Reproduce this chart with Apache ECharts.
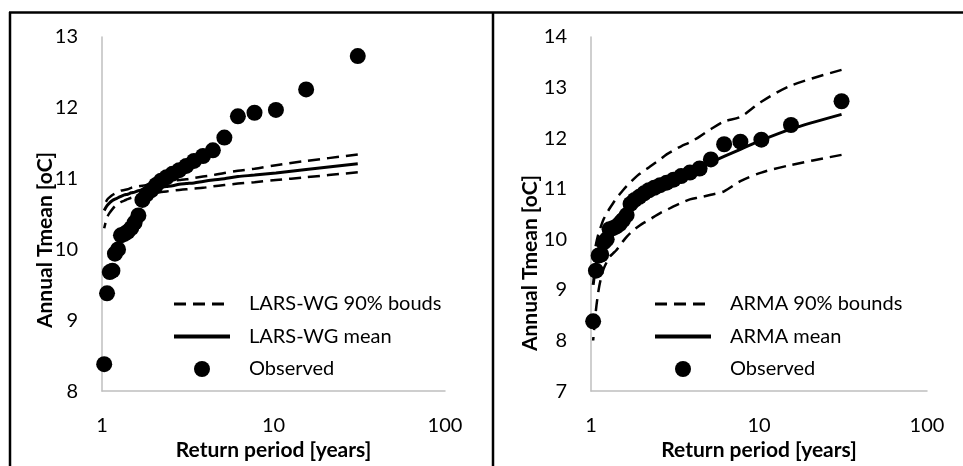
<!DOCTYPE html>
<html lang="en">
<head>
<meta charset="UTF-8">
<title>Annual Tmean return periods</title>
<script src="https://cdn.jsdelivr.net/npm/echarts@6/dist/echarts.min.js"></script>
<style>
    html, body { margin: 0; padding: 0; background: #fff; }
    #chart { width: 963px; height: 466px; }
</style>
</head>
<body>
<div id="chart"></div>
<script>
    // return periods of the observed years (largest first)
    var returnPeriod = [31, 15.5, 10.33, 7.75, 6.2, 5.17, 4.43, 3.88, 3.44, 3.1, 2.82, 2.58, 2.38, 2.21, 2.07,
        1.94, 1.82, 1.72, 1.63, 1.55, 1.48, 1.41, 1.35, 1.29, 1.24, 1.19, 1.15, 1.11, 1.07, 1.03];
    var observed = [12.73, 12.26, 11.97, 11.93, 11.88, 11.58, 11.40, 11.32, 11.25, 11.18, 11.12, 11.07, 11.02, 10.97, 10.91,
        10.84, 10.78, 10.70, 10.48, 10.38, 10.30, 10.25, 10.22, 10.20, 10.00, 9.94, 9.70, 9.68, 9.38, 8.38];

    // LARS-WG
    var larsMean = [11.21, 11.13, 11.08, 11.05, 11.03, 11.00, 10.98, 10.96, 10.94, 10.93, 10.92, 10.90, 10.89, 10.88, 10.87,
        10.86, 10.85, 10.84, 10.83, 10.81, 10.80, 10.78, 10.77, 10.75, 10.73, 10.71, 10.69, 10.66, 10.62, 10.55];
    var larsUpper = [11.34, 11.25, 11.19, 11.14, 11.11, 11.08, 11.05, 11.03, 11.01, 10.99, 10.98, 10.97, 10.95, 10.94, 10.93,
        10.92, 10.91, 10.90, 10.89, 10.88, 10.87, 10.85, 10.84, 10.83, 10.81, 10.79, 10.77, 10.74, 10.70, 10.62];
    var larsLower = [11.09, 11.02, 10.98, 10.95, 10.93, 10.91, 10.89, 10.87, 10.86, 10.85, 10.84, 10.83, 10.82, 10.81, 10.80,
        10.79, 10.78, 10.77, 10.76, 10.74, 10.73, 10.71, 10.69, 10.67, 10.64, 10.61, 10.57, 10.52, 10.45, 10.30];

    // ARMA
    var armaMean = [12.47, 12.18, 11.96, 11.78, 11.64, 11.52, 11.41, 11.32, 11.24, 11.17, 11.10, 11.04, 10.98, 10.92, 10.87,
        10.81, 10.75, 10.69, 10.63, 10.56, 10.49, 10.42, 10.34, 10.25, 10.15, 10.05, 9.92, 9.75, 9.50, 9.10];
    var armaUpper = [13.35, 13.04, 12.72, 12.42, 12.33, 12.18, 12.03, 11.92, 11.84, 11.76, 11.68, 11.58, 11.50, 11.42, 11.36,
        11.29, 11.21, 11.13, 11.05, 10.97, 10.89, 10.80, 10.71, 10.61, 10.51, 10.40, 10.27, 10.12, 9.90, 9.60];
    var armaLower = [11.67, 11.47, 11.32, 11.15, 10.95, 10.88, 10.83, 10.79, 10.72, 10.65, 10.58, 10.52, 10.45, 10.38, 10.33,
        10.27, 10.20, 10.13, 10.05, 9.96, 9.87, 9.78, 9.72, 9.65, 9.55, 9.42, 9.25, 9.00, 8.60, 8.00];

    var xTicks = [1, 10, 100];

    function pairs(ys) {
        return returnPeriod.map(function (t, i) { return [t, ys[i]]; });
    }

    var font = 'Lato';
    var dash = [12, 7];

    function xAxisCfg(idx) {
        return {
            gridIndex: idx, type: 'log', logBase: 10, min: xTicks[0], max: xTicks[xTicks.length - 1],
            name: 'Return period [years]', nameLocation: 'middle', nameGap: 46,
            nameTextStyle: { fontFamily: font, fontSize: 21, fontWeight: 'bold', color: '#000' },
            axisLine: { lineStyle: { color: '#bfbfbf', width: 1.5 } },
            axisTick: { show: false }, splitLine: { show: false },
            axisLabel: { fontFamily: font, fontSize: 20, color: '#000', margin: 24 }
        };
    }

    function yAxisCfg(idx, min, max) {
        return {
            gridIndex: idx, type: 'value', min: min, max: max, interval: 1,
            axisLine: { show: true, lineStyle: { color: '#bfbfbf', width: 1.5 } },
            axisTick: { show: false }, splitLine: { show: false },
            axisLabel: { fontFamily: font, fontSize: 20, color: '#000', margin: 24 }
        };
    }

    function lineSeries(name, idx, ys, dashed) {
        return {
            name: name, type: 'line', xAxisIndex: idx, yAxisIndex: idx,
            data: pairs(ys), symbol: 'none', smooth: 0.3,
            lineStyle: { color: '#000', width: dashed ? 2.5 : 3, type: dashed ? dash : 'solid' },
            itemStyle: { color: 'rgba(0,0,0,0)' }
        };
    }

    function obsSeries(idx) {
        return {
            name: 'Observed', type: 'scatter', xAxisIndex: idx, yAxisIndex: idx,
            data: pairs(observed), symbol: 'circle', symbolSize: 16,
            itemStyle: { color: '#000', opacity: 1 }
        };
    }

    function legendCfg(left, names) {
        return {
            left: left, top: 294, orient: 'vertical', padding: 0,
            data: [
                { name: names[0], itemStyle: { opacity: 0 }, lineStyle: { width: 3 } },
                { name: names[1], itemStyle: { opacity: 0 }, lineStyle: { width: 4 } },
                { name: names[2] }
            ],
            itemWidth: 56, itemHeight: 16, itemGap: 12.5,
            textStyle: { fontFamily: font, fontSize: 20, color: '#000', padding: [0, 0, 0, 14] }
        };
    }

    function border(x1, y1, x2, y2) {
        return { type: 'line', shape: { x1: x1, y1: y1, x2: x2, y2: y2 }, style: { stroke: '#000', lineWidth: 2.5 }, silent: true };
    }

    function yTitle(x, y) {
        return {
            type: 'text', x: x, y: y, rotation: Math.PI / 2, silent: true,
            style: { text: 'Annual Tmean [oC]', font: 'bold 21px Lato', fill: '#000', align: 'center', verticalAlign: 'middle' }
        };
    }

    var chart = echarts.init(document.getElementById('chart'));
    chart.setOption({
        animation: false,
        grid: [
            { left: 102, top: 37, width: 343, height: 356 },
            { left: 591, top: 37, width: 336, height: 356 }
        ],
        xAxis: [xAxisCfg(0), xAxisCfg(1)],
        yAxis: [yAxisCfg(0, 8, 13), yAxisCfg(1, 7, 14)],
        legend: [
            legendCfg(172, ['LARS-WG 90% bouds', 'LARS-WG mean', 'Observed']),
            legendCfg(653, ['ARMA 90% bounds', 'ARMA mean', 'Observed'])
        ],
        graphic: [
            border(9, 12.5, 963, 12.5),
            border(10, 12, 10, 466),
            border(493, 12, 493, 466),
            yTitle(45, 240),
            yTitle(530, 263)
        ],
        series: [
            lineSeries('LARS-WG 90% bouds', 0, larsUpper, true),
            lineSeries('LARS-WG 90% bouds', 0, larsLower, true),
            lineSeries('LARS-WG mean', 0, larsMean, false),
            obsSeries(0),
            lineSeries('ARMA 90% bounds', 1, armaUpper, true),
            lineSeries('ARMA 90% bounds', 1, armaLower, true),
            lineSeries('ARMA mean', 1, armaMean, false),
            obsSeries(1)
        ]
    });
</script>
</body>
</html>
